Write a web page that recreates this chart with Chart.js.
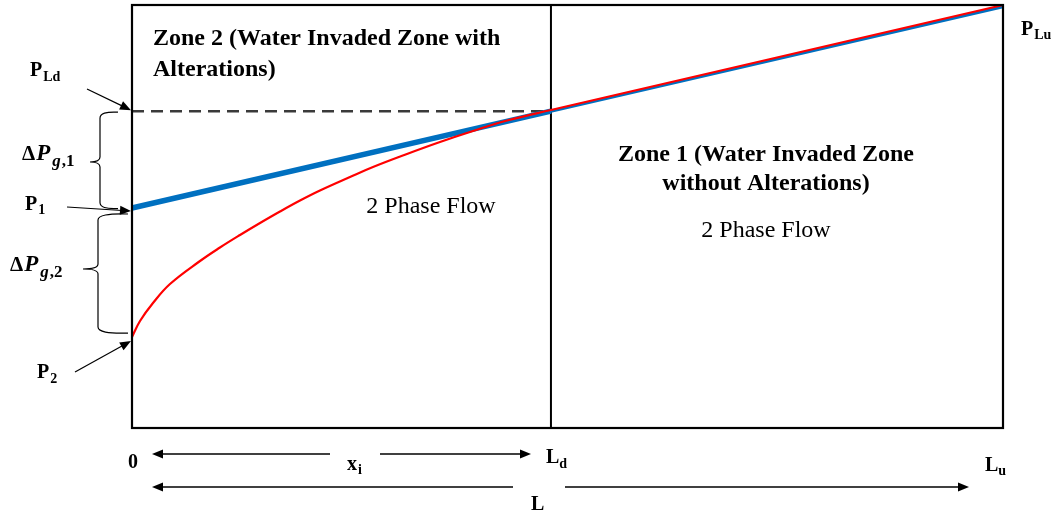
<!DOCTYPE html>
<html>
<head>
<meta charset="utf-8">
<script src="https://cdn.jsdelivr.net/npm/chart.js@4.4.1/dist/chart.umd.min.js"></script>
<style>
html,body{margin:0;padding:0;background:#fff;}
#wrap{width:1060px;height:516px;}
</style>
</head>
<body>
<div id="wrap"><canvas id="c" width="1060" height="516"></canvas></div>
<script>
// Positions along the core (0 = outlet, Ld = altered zone boundary, Lu = inlet), % of L
const xMarks = [0, 48.1, 100];          // 0, Ld, Lu
const xMarkLabels = ["0", "Ld", "Lu"];
// Pressure levels (relative units, 0..100 of axis)
const P1 = 52.0, PLd = 74.9, PLu = 99.6, P2 = 21.5;
// Blue line (linear pressure profile)
const blueZone2X = [0, 48.1];
const blueZone2Y = [52.0, 74.9];
const blueZone1X = [48.1, 100];
const blueZone1Y = [74.9, 99.6];
// Red curve (pressure profile with alterations)
const redX = [0, 0.92, 2.41, 4.36, 7.81, 10.10, 12.40, 14.70, 16.99, 19.29, 21.58, 25.03, 27.67, 31.57, 35.36, 39.15, 43.06, 48.1, 100];
const redY = [21.5, 25.3, 29.55, 34.04, 39.48, 42.67, 45.63, 48.46, 51.18, 53.78, 56.15, 59.34, 61.70, 64.78, 67.61, 70.21, 72.70, 75.18, 100];
// Dashed reference at PLd
const dashX = [0, 48.1];
const dashY = [74.9, 74.9];

const pts = (xs, ys) => xs.map((x, i) => ({x: x, y: ys[i]}));
const SERIF = '"Liberation Serif", "Times New Roman", serif';

function subText(ctx, x, y, main, sub, mainFont, subFont, dy, gap) {
  ctx.font = mainFont;
  ctx.fillText(main, x, y);
  const w = ctx.measureText(main).width;
  ctx.font = subFont;
  ctx.fillText(sub, x + w + (gap || 0), y + dy);
}
function arrow(ctx, x1, y1, x2, y2, head) {
  head = head || 11;
  const a = Math.atan2(y2 - y1, x2 - x1);
  ctx.beginPath();
  ctx.moveTo(x1, y1);
  ctx.lineTo(x2 - Math.cos(a) * head * 0.8, y2 - Math.sin(a) * head * 0.8);
  ctx.stroke();
  ctx.beginPath();
  ctx.moveTo(x2, y2);
  ctx.lineTo(x2 - head * Math.cos(a) + 4.5 * Math.sin(a), y2 - head * Math.sin(a) - 4.5 * Math.cos(a));
  ctx.lineTo(x2 - head * Math.cos(a) - 4.5 * Math.sin(a), y2 - head * Math.sin(a) + 4.5 * Math.cos(a));
  ctx.closePath();
  ctx.fill();
}
function line(ctx, x1, y1, x2, y2) {
  ctx.beginPath(); ctx.moveTo(x1, y1); ctx.lineTo(x2, y2); ctx.stroke();
}
function brace(ctx, x, yTop, yBot, yMid, tipX, endX) {
  ctx.beginPath();
  ctx.moveTo(endX, yTop);
  ctx.quadraticCurveTo(x, yTop - 1, x, yTop + 6);
  ctx.lineTo(x, yMid - 5);
  ctx.quadraticCurveTo(x, yMid, tipX, yMid);
  ctx.quadraticCurveTo(x, yMid, x, yMid + 5);
  ctx.lineTo(x, yBot - 6);
  ctx.quadraticCurveTo(x, yBot + 1, endX, yBot);
  ctx.stroke();
}

const decor = {
  id: 'decor',
  beforeDatasetsDraw(chart) {
    const ctx = chart.ctx;
    const ca = chart.chartArea;
    const xs = chart.scales.x;
    ctx.save();
    ctx.strokeStyle = '#000';
    ctx.lineWidth = 2;
    const xLd = xs.getPixelForValue(xMarks[1]);
    line(ctx, xLd, ca.top, xLd, ca.bottom);
    ctx.restore();
  },
  afterDatasetsDraw(chart) {
    const ctx = chart.ctx;
    const ca = chart.chartArea;
    const xs = chart.scales.x, ys = chart.scales.y;
    ctx.save();
    // frame
    ctx.strokeStyle = '#000';
    ctx.lineWidth = 2.2;
    ctx.strokeRect(ca.left, ca.top, ca.right - ca.left, ca.bottom - ca.top);

    ctx.fillStyle = '#000';
    ctx.textBaseline = 'alphabetic';
    // zone texts
    ctx.textAlign = 'left';
    ctx.font = 'bold 24px ' + SERIF;
    ctx.fillText('Zone 2 (Water Invaded Zone with', 153, 45);
    ctx.fillText('Alterations)', 153, 76);
    ctx.textAlign = 'center';
    ctx.fillText('Zone 1 (Water Invaded Zone', 766, 161);
    ctx.fillText('without Alterations)', 766, 190);
    ctx.font = '24px ' + SERIF;
    ctx.fillText('2 Phase Flow', 766, 237);
    ctx.fillText('2 Phase Flow', 431, 213);

    // left labels
    ctx.textAlign = 'left';
    const bF = 'bold 20px ' + SERIF, sF = 'bold 14px ' + SERIF;
    subText(ctx, 30, 76, 'P', 'Ld', bF, sF, 5, 1);
    subText(ctx, 25, 210, 'P', '1', bF, sF, 4, 1);
    subText(ctx, 37, 378, 'P', '2', bF, sF, 5, 1);
    subText(ctx, 1021, 35, 'P', 'Lu', bF, sF, 4, 1);

    // delta labels
    function dLabel(x, y, n) {
      ctx.font = 'bold 21px ' + SERIF;
      ctx.fillText('\u0394', x, y);
      let w = ctx.measureText('\u0394').width;
      ctx.font = 'bold italic 23px ' + SERIF;
      ctx.fillText('P', x + w + 1, y);
      w += ctx.measureText('P').width + 3;
      ctx.font = 'bold italic 17px ' + SERIF;
      ctx.fillText('g', x + w, y + 6);
      const w2 = ctx.measureText('g').width;
      ctx.font = 'bold 17px ' + SERIF;
      ctx.fillText(',' + n, x + w + w2 + 1, y + 6);
    }
    dLabel(22, 160, '1');
    dLabel(10, 271, '2');

    // arrows into axis
    ctx.strokeStyle = '#000';
    ctx.lineWidth = 1.2;
    const x0 = xs.getPixelForValue(xMarks[0]) - 1;
    arrow(ctx, 87, 89, x0, ys.getPixelForValue(PLd) - 1);
    arrow(ctx, 67, 207, x0, ys.getPixelForValue(P1) + 3);
    arrow(ctx, 75, 372, x0, ys.getPixelForValue(P2) + 4);

    // braces
    brace(ctx, 100, ys.getPixelForValue(PLd) + 1, ys.getPixelForValue(P1) + 0.5, 162, 90, 118);
    brace(ctx, 98, 214, ys.getPixelForValue(P2) - 4, 269, 83, 128);

    // bottom dimension arrows
    ctx.lineWidth = 1.4;
    arrow(ctx, 330, 454, 152, 454);
    arrow(ctx, 380, 454, 531, 454);
    arrow(ctx, 513, 487, 152, 487);
    arrow(ctx, 565, 487, 969, 487);

    // bottom labels
    ctx.font = 'bold 20px ' + SERIF;
    ctx.fillText(xMarkLabels[0], 128, 468);
    subText(ctx, 546, 463, 'L', 'd', bF, sF, 5, 0);
    subText(ctx, 985, 471, 'L', 'u', bF, sF, 4, 0);
    subText(ctx, 347, 470, 'x', 'i', bF, sF, 4, 1);
    ctx.font = 'bold 20px ' + SERIF;
    ctx.fillText('L', 531, 510);
    ctx.restore();
  }
};

new Chart(document.getElementById('c'), {
  type: 'line',
  data: {
    datasets: [
      {label: 'P (altered)', data: pts(redX, redY), borderColor: '#ff0000', borderWidth: 2.2,
       pointRadius: 0, tension: 0.4, order: 0, clip: false},
      {label: 'P zone 2', data: pts(blueZone2X, blueZone2Y), borderColor: '#0070c0', borderWidth: 5.5,
       pointRadius: 0, order: 1, clip: false},
      {label: 'P zone 1', data: pts(blueZone1X, blueZone1Y), borderColor: '#0070c0', borderWidth: 3,
       pointRadius: 0, order: 1, clip: false},
      {label: 'PLd', data: pts(dashX, dashY), borderColor: '#3a3a3a', borderWidth: 2.5,
       borderDash: [12, 7], pointRadius: 0, order: 2, clip: false}
    ]
  },
  options: {
    responsive: false,
    animation: false,
    layout: {padding: {left: 132, right: 57, top: 5, bottom: 88}},
    plugins: {legend: {display: false}, tooltip: {enabled: false}},
    scales: {
      x: {type: 'linear', min: 0, max: 100, display: false},
      y: {type: 'linear', min: 0, max: 100, display: false}
    }
  },
  plugins: [decor]
});
</script>
</body>
</html>
